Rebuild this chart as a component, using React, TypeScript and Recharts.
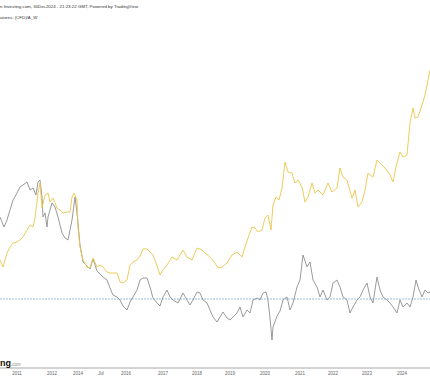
import { LineChart, Line, XAxis, YAxis, ReferenceLine } from "recharts";

// bar index inside the visible window (weekly bars)
const tickBars = [17, 52, 78, 101, 126, 163, 197, 230, 265, 300, 333, 367, 402];
const tickLabels = ["2011", "2012", "2014", "Jul", "2016", "2017", "2018", "2019", "2020", "2021", "2022", "2023", "2024"];

// gold futures (CFD), index level
const goldBars = [
  0, 3, 7, 10, 13, 17, 20, 23, 27, 30,
  33, 35, 38, 40, 42, 45, 48, 50, 53, 57,
  60, 63, 67, 70, 72, 74, 77, 78, 80, 83,
  87, 90, 93, 97, 100, 103, 107, 110, 113, 117,
  120, 123, 127, 130, 133, 137, 140, 143, 147, 150,
  153, 156, 160, 163, 167, 172, 177, 183, 187, 192,
  197, 202, 205, 210, 215, 218, 222, 227, 232, 237,
  242, 245, 248, 252, 255, 258, 262, 265, 268, 271,
  273, 276, 279, 282, 285, 288, 292, 295, 298, 302,
  305, 308, 312, 315, 318, 323, 328, 332, 337, 340,
  343, 347, 352, 355, 358, 362, 365, 368, 373, 377,
  382, 385, 390, 393, 396, 400, 403, 407, 410, 413,
  415, 418, 422, 425, 428, 430,
];
const goldValues = [
  108, 101, 115, 121, 125, 126, 128, 131, 138, 143,
  141, 150, 175, 185, 160, 173, 175, 166, 170, 160,
  158, 155, 156, 156, 171, 175, 168, 141, 121, 108,
  101, 100, 110, 101, 103, 101, 96, 95, 95, 95,
  86, 85, 88, 103, 106, 108, 112, 119, 119, 116,
  113, 105, 93, 98, 103, 111, 108, 118, 111, 108,
  120, 118, 115, 111, 105, 100, 101, 105, 113, 116,
  111, 121, 130, 141, 140, 136, 138, 150, 153, 138,
  163, 171, 168, 180, 206, 196, 195, 185, 188, 181,
  166, 171, 185, 175, 178, 173, 185, 176, 180, 200,
  191, 188, 170, 178, 161, 166, 178, 195, 191, 208,
  203, 200, 193, 186, 201, 216, 211, 213, 245, 260,
  250, 251, 263, 273, 288, 298,
];

// second instrument (grey)
const otherBars = [
  0, 2, 4, 7, 10, 13, 17, 20, 23, 27,
  30, 33, 36, 38, 40, 42, 43, 45, 47, 48,
  52, 55, 58, 62, 65, 68, 72, 75, 77, 80,
  83, 87, 90, 93, 97, 100, 103, 107, 110, 113,
  117, 120, 123, 127, 130, 133, 137, 140, 143, 147,
  150, 153, 157, 160, 163, 167, 170, 173, 178, 183,
  187, 190, 193, 197, 200, 203, 207, 210, 213, 217,
  220, 223, 227, 230, 233, 237, 240, 243, 247, 250,
  253, 257, 260, 263, 266, 268, 270, 272, 273, 277,
  280, 283, 287, 290, 293, 297, 300, 303, 307, 310,
  313, 317, 320, 323, 327, 330, 333, 337, 340, 343,
  347, 350, 353, 357, 360, 363, 367, 370, 373, 377,
  380, 383, 387, 390, 393, 397, 400, 403, 407, 410,
  413, 416, 418, 422, 425, 428, 430,
];
const otherValues = [
  151, 146, 141, 148, 158, 168, 175, 181, 183, 186,
  178, 180, 173, 186, 188, 171, 151, 155, 141, 151,
  165, 161, 151, 135, 130, 128, 148, 171, 155, 123,
  106, 102, 99, 109, 97, 94, 91, 88, 80, 73,
  71, 68, 62, 58, 66, 71, 78, 88, 90, 90,
  81, 70, 65, 62, 71, 78, 71, 68, 65, 75,
  68, 63, 68, 76, 75, 68, 65, 58, 51, 46,
  51, 56, 50, 48, 51, 55, 61, 51, 58, 55,
  68, 70, 68, 75, 76, 68, 50, 28, 41, 52,
  57, 68, 71, 58, 65, 81, 88, 113, 101, 106,
  88, 81, 71, 78, 68, 71, 85, 88, 81, 71,
  68, 55, 61, 68, 71, 78, 85, 71, 65, 91,
  78, 71, 68, 65, 61, 55, 68, 61, 65, 61,
  71, 88, 81, 71, 78, 75, 76,
];

const baseline = 69;

const goldData = goldBars.map((bar, i) => ({ bar, value: goldValues[i] }));
const otherData = otherBars.map((bar, i) => ({ bar, value: otherValues[i] }));

const font = "'Liberation Sans Narrow', 'Liberation Sans', Arial, sans-serif";

export default function App() {
  return (
    <div
      style={{
        position: "absolute",
        left: 0,
        top: 0,
        width: 430,
        height: 380,
        overflow: "hidden",
        background: "#fff",
        fontFamily: font,
      }}
    >
      <LineChart width={430} height={380} margin={{ top: 0, right: 0, left: 0, bottom: 0 }}>
        <XAxis
          dataKey="bar"
          type="number"
          domain={[0, 430]}
          ticks={tickBars}
          tickFormatter={(v: number) => tickLabels[tickBars.indexOf(v)] ?? ""}
          height={12}
          axisLine={{ stroke: "#a8a8a8", strokeWidth: 1.2 }}
          tickLine={false}
          tickSize={3}
          tickMargin={1}
          tick={{ fontSize: 4.5, fill: "#666", fontFamily: font }}
          interval={0}
          allowDataOverflow
        />
        <YAxis hide domain={[0, 368]} allowDataOverflow />
        <ReferenceLine y={baseline} stroke="#9db8e6" strokeWidth={1} strokeDasharray="2 1" />
        <Line
          data={otherData}
          dataKey="value"
          type="linear"
          stroke="#8e8e8e"
          strokeWidth={0.9}
          dot={false}
          activeDot={false}
          isAnimationActive={false}
        />
        <Line
          data={goldData}
          dataKey="value"
          type="linear"
          stroke="#ecc54a"
          strokeWidth={0.9}
          dot={false}
          activeDot={false}
          isAnimationActive={false}
        />
      </LineChart>

      <div style={{ position: "absolute", left: 0, top: 5, fontSize: 4.4, color: "#333", whiteSpace: "nowrap", lineHeight: 1 }}>
        n Investing.com, 30Dec2024 - 21:23:22 GMT, Powered by TradingView
      </div>
      <div style={{ position: "absolute", left: 0, top: 16, fontSize: 4.4, color: "#333", whiteSpace: "nowrap", lineHeight: 1 }}>
        atures, (CFD)/A_W
      </div>
      <div style={{ position: "absolute", left: 0, top: 353, whiteSpace: "nowrap", lineHeight: 1 }}>
        <span style={{ fontSize: 9, fontWeight: 700, color: "#111", fontFamily: "'Liberation Sans', Arial, sans-serif" }}>ng</span>
        <span style={{ fontSize: 4.5, color: "#888" }}>.com</span>
      </div>
    </div>
  );
}
